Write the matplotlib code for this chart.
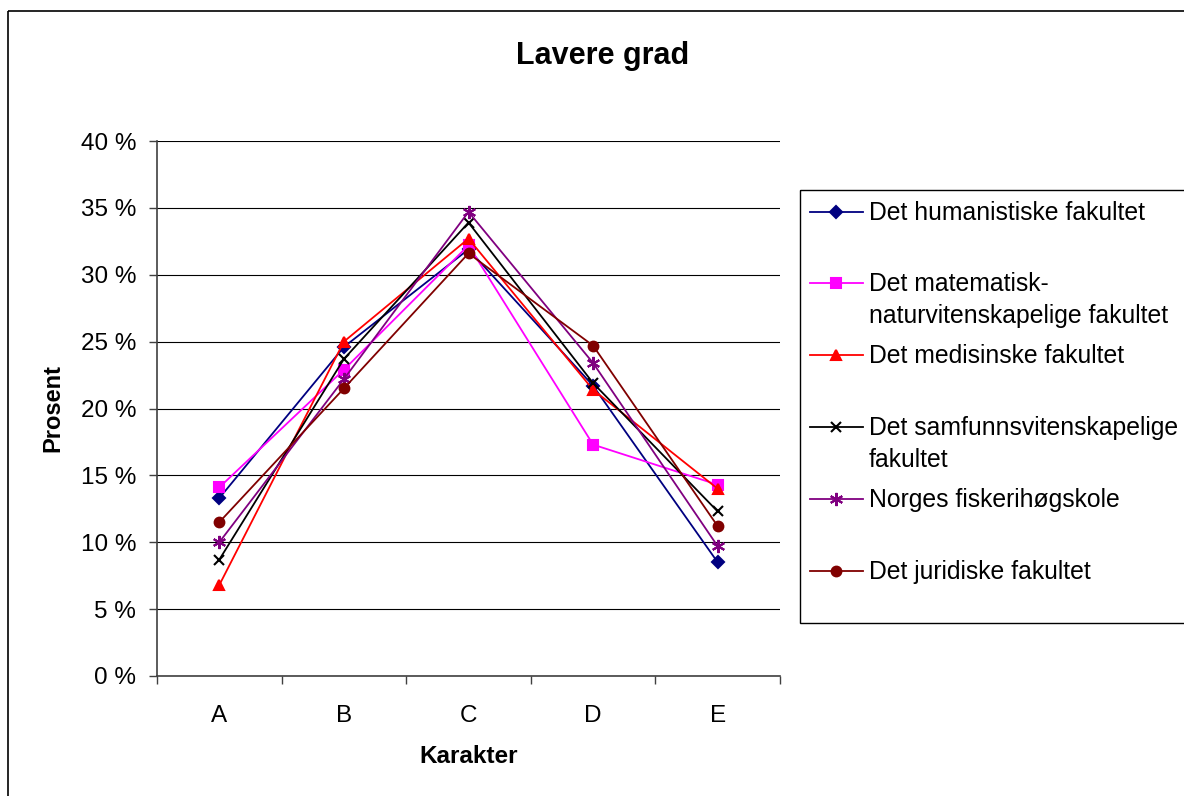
import matplotlib.pyplot as plt
from matplotlib.patches import Rectangle
from matplotlib.lines import Line2D

plt.rcParams['font.family'] = ['Liberation Sans', 'DejaVu Sans']

karakterer = ['A', 'B', 'C', 'D', 'E']

humanistiske = [13.3, 24.6, 31.9, 21.7, 8.5]
matematisk = [14.1, 22.9, 32.2, 17.3, 14.3]
medisinske = [6.8, 25.0, 32.7, 21.4, 14.0]
samfunn = [8.7, 23.7, 33.9, 21.9, 12.3]
fiskeri = [10.0, 22.2, 34.7, 23.4, 9.7]
juridiske = [11.5, 21.5, 31.6, 24.7, 11.2]

series = [
    ('Det humanistiske fakultet', humanistiske, '#000080', 'D', 6.5),
    ('Det matematisk-\nnaturvitenskapelige fakultet', matematisk, '#FF00FF', 's', 6.5),
    ('Det medisinske fakultet', medisinske, '#FF0000', '^', 7.5),
    ('Det samfunnsvitenskapelige\nfakultet', samfunn, '#000000', 'x', 7.5),
    ('Norges fiskerihøgskole', fiskeri, '#800080', (6, 2, 0), 9.5),
    ('Det juridiske fakultet', juridiske, '#800000', 'o', 7),
]

W, H = 1184, 796
fig = plt.figure(figsize=(W / 100, H / 100), dpi=100)

# overlay in pixel coords for border + legend
ov = fig.add_axes([0, 0, 1, 1])
ov.set_xlim(0, W)
ov.set_ylim(H, 0)
ov.axis('off')
ov.add_patch(Rectangle((8, 11), W, H, fill=False, edgecolor='black', lw=1.2))

ax = fig.add_axes([157 / W, 1 - 676 / H, (780 - 157) / W, (676 - 141) / H])
x = range(len(karakterer))
for name, vals, col, mk, ms in series:
    ax.plot(x, vals, color=col, marker=mk, markersize=ms, lw=1.3,
            markeredgecolor=col, markerfacecolor=col, markeredgewidth=1.5,
            clip_on=False, zorder=3)

ax.set_xlim(-0.5, 4.5)
ax.set_ylim(0, 40)
ax.set_yticks(range(0, 41, 5))
ax.set_yticklabels([f'{v} %' for v in range(0, 41, 5)], fontsize=17.5)
ax.set_xticks(list(x))
ax.set_xticklabels(karakterer, fontsize=17.5)
ax.set_xticks([i - 0.5 for i in range(6)], minor=True)
ax.tick_params(axis='x', which='major', length=0, pad=21)
ax.tick_params(axis='x', which='minor', length=6, width=1, color='#404040')
ax.tick_params(axis='y', length=6, width=1, color='#404040', pad=9)
ax.grid(axis='y', color='black', lw=0.8)
ax.set_axisbelow(True)
for s in ['top', 'right']:
    ax.spines[s].set_visible(False)
for s in ['left', 'bottom']:
    ax.spines[s].set_color('#404040')
    ax.spines[s].set_linewidth(1.2)

ax.set_ylabel('Prosent', fontsize=17, fontweight='bold', labelpad=12)
ax.set_xlabel('Karakter', fontsize=17.5, fontweight='bold', labelpad=13)
fig.text(603 / W, 1 - 56 / H, 'Lavere grad', fontsize=22, fontweight='bold',
         ha='center', va='center')

# legend
ov.add_patch(Rectangle((800, 190), 500, 433, fill=False, edgecolor='black', lw=1))
ys = [212, 283, 355, 427, 499, 571]
for (name, vals, col, mk, ms), y in zip(series, ys):
    ov.add_line(Line2D([810, 863], [y, y], color=col, lw=1.3))
    ov.plot([836], [y], marker=mk, markersize=ms, color=col,
            markeredgecolor=col, markeredgewidth=1.5)
    ov.text(869, y - 11, name, fontsize=17.8, va='top', ha='left',
            linespacing=1.42)

fig.savefig('out.png', dpi=100)
